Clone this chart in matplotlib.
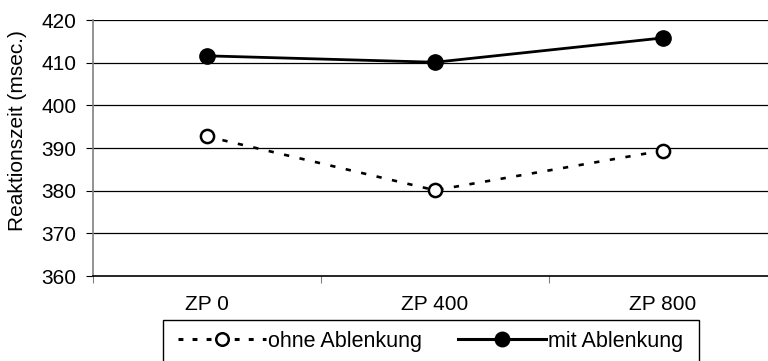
import matplotlib
matplotlib.use("Agg")
import matplotlib.pyplot as plt
from matplotlib.patches import Rectangle

# data
categories = ["ZP 0", "ZP 400", "ZP 800"]
ohne = [392.7, 380.1, 389.4]
mit = [411.6, 410.1, 415.8]
yticks = [360, 370, 380, 390, 400, 410, 420]

plt.rcParams["font.family"] = ["Liberation Sans", "DejaVu Sans"]
plt.rcParams["font.size"] = 15

W, H = 768, 361
fig = plt.figure(figsize=(W / 100, H / 100), dpi=100)
ax = fig.add_axes([93 / W, 1 - 276 / H, (777 - 93) / W, (276 - 20) / H])

xpos = [i + 0.5 for i in range(len(categories))]

for y in yticks[1:]:
    ax.axhline(y, color="black", lw=0.9, zorder=1)

ax.plot(xpos, ohne, color="black", lw=1.9, linestyle=(0, (2.0, 4.0)),
        marker="o", markersize=9.5, markerfacecolor="white",
        markeredgecolor="black", markeredgewidth=1.8, label="ohne Ablenkung",
        zorder=3)
ax.plot(xpos, mit, color="black", lw=2, marker="o", markersize=11,
        markerfacecolor="black", markeredgecolor="black",
        label="mit Ablenkung", zorder=3)

ax.set_xlim(0, 3)
ax.set_ylim(360, 420)
ax.set_yticks(yticks)
ax.set_xticks([0, 1, 2, 3])
ax.set_xticklabels([])
ax.set_xticks(xpos, minor=True)
ax.set_xticklabels(categories, minor=True)
ax.tick_params(axis="x", which="major", direction="out", length=5, width=0.8,
               color="#808080")
ax.tick_params(axis="x", which="minor", length=0, pad=14)
ax.tick_params(axis="y", direction="out", length=5, width=0.8,
               color="black", pad=7)

for s in ["top", "right"]:
    ax.spines[s].set_visible(False)
ax.spines["left"].set_color("#808080")
ax.spines["left"].set_linewidth(1.2)
ax.spines["bottom"].set_color("black")
ax.spines["bottom"].set_linewidth(1.2)

fig.text(18 / W, 1 - 131 / H, "Reaktionszeit (msec.)", rotation=90,
         ha="center", va="center")

# legend box (Excel style, wider than its entries, runs off the bottom)
fig.patches.append(Rectangle((163 / W, 1 - 375 / H), (699 - 163) / W, 55 / H,
                             transform=fig.transFigure, fill=False,
                             edgecolor="black", lw=1.0))
leg = fig.legend(loc="center left", bbox_to_anchor=(178 / W, 1 - 341 / H),
                 ncol=2, frameon=False, handlelength=4.1, fontsize=15.5,
                 handletextpad=0.1, columnspacing=1.65, borderpad=0,
                 borderaxespad=0, markerscale=0.95)
lines = leg.get_lines()
lines[0].set_linewidth(2.2)
lines[0].set_dashes((1.6, 3.0))
lines[1].set_linewidth(2.2)

fig.savefig("out.png", dpi=100)
